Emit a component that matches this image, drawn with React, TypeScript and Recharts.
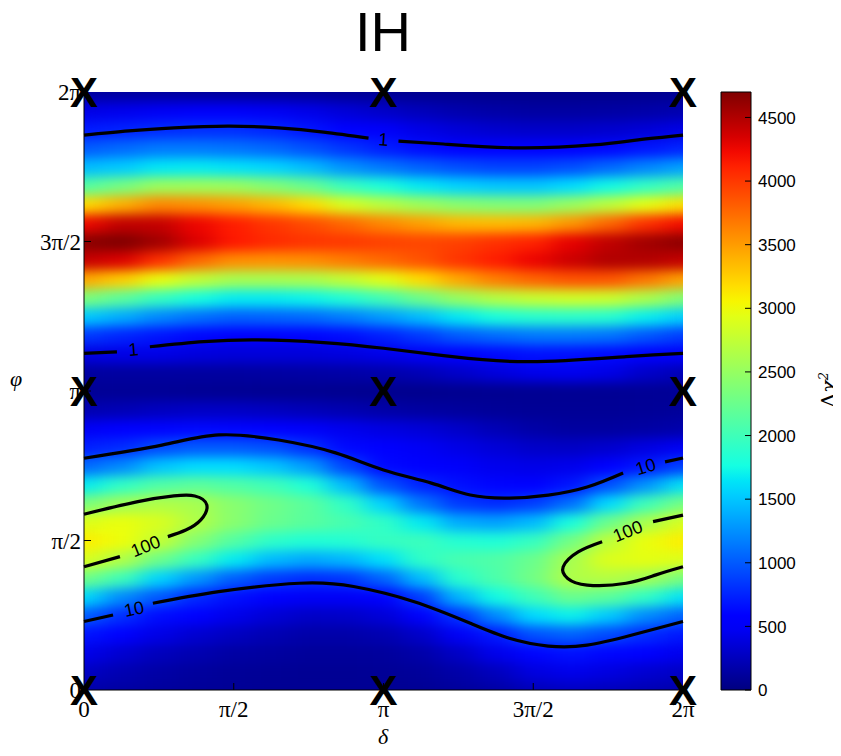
// IH: Δχ² map over (δ, φ) with contour lines and colour bar
import React from 'react';
import { ComposedChart, Scatter, Line, Bar, XAxis, YAxis } from 'recharts';

// δ and φ in units of π
const deltaCols = [0, 0.125, 0.25, 0.375, 0.5, 0.625, 0.75, 0.875, 1, 1.125, 1.25, 1.375, 1.5, 1.625, 1.75, 1.875, 2];
const phiRows = [
  0, 0.0625, 0.125, 0.1875, 0.25, 0.3125, 0.375, 0.4375, 0.5, 0.5625, 0.625, 0.6875, 0.75, 0.8125, 0.875, 0.9375,
  1, 1.0625, 1.125, 1.1875, 1.25, 1.3125, 1.375, 1.4375, 1.5, 1.5625, 1.625, 1.6875, 1.75, 1.8125, 1.875, 1.9375, 2,
];

// Δχ², one row per φ (bottom to top), one column per δ
const heatRows = [
  [170, 140, 120, 100, 90, 80, 80, 80, 80, 85, 110, 150, 220, 260, 240, 210, 170],
  [280, 210, 155, 125, 100, 90, 85, 85, 90, 110, 170, 255, 390, 440, 395, 335, 280],
  [445, 330, 250, 200, 150, 130, 110, 110, 120, 170, 285, 440, 600, 660, 610, 540, 445],
  [680, 540, 420, 330, 265, 210, 170, 170, 200, 300, 490, 700, 960, 1040, 930, 790, 680],
  [1030, 800, 640, 540, 435, 350, 290, 300, 360, 510, 820, 1215, 1590, 1700, 1520, 1230, 1030],
  [1620, 1230, 990, 770, 650, 540, 490, 490, 550, 860, 1420, 1750, 2000, 2250, 2160, 1920, 1620],
  [2300, 2000, 1570, 1290, 1020, 860, 790, 830, 1050, 1460, 1880, 2080, 2300, 2650, 2680, 2570, 2300],
  [2900, 2650, 2260, 1960, 1670, 1450, 1360, 1430, 1620, 1910, 2050, 2100, 2250, 2600, 2900, 2950, 2900],
  [3100, 3000, 2760, 2400, 2120, 1900, 1830, 1850, 1950, 1980, 1850, 1820, 1950, 2300, 2730, 2980, 3100],
  [2900, 2980, 2880, 2650, 2420, 2250, 2150, 2050, 1920, 1670, 1380, 1330, 1450, 1780, 2260, 2610, 2900],
  [2330, 2550, 2650, 2600, 2420, 2280, 2160, 1920, 1560, 1130, 850, 780, 870, 1100, 1600, 2000, 2330],
  [1660, 1920, 2100, 2170, 2100, 2000, 1820, 1450, 970, 750, 650, 600, 550, 680, 950, 1270, 1660],
  [1060, 1220, 1490, 1600, 1600, 1500, 1300, 900, 620, 560, 500, 450, 420, 440, 560, 700, 900],
  [720, 780, 930, 1000, 1000, 950, 800, 620, 520, 480, 420, 360, 300, 280, 320, 400, 480],
  [480, 540, 600, 620, 600, 560, 500, 450, 400, 360, 300, 220, 160, 130, 130, 150, 180],
  [200, 220, 260, 280, 280, 260, 230, 200, 160, 140, 120, 100, 90, 90, 90, 100, 110],
  [90, 90, 90, 85, 80, 75, 70, 65, 60, 60, 65, 70, 75, 80, 85, 90, 90],
  [130, 130, 130, 130, 130, 140, 150, 160, 180, 220, 300, 380, 440, 460, 420, 300, 220],
  [400, 420, 420, 385, 365, 365, 370, 390, 430, 490, 560, 620, 660, 650, 630, 560, 500],
  [860, 760, 680, 615, 580, 580, 600, 640, 730, 850, 1000, 1080, 1140, 1150, 1120, 990, 860],
  [1530, 1380, 1220, 1110, 1030, 1050, 1080, 1170, 1300, 1460, 1660, 1790, 1870, 1890, 1860, 1690, 1530],
  [2370, 2170, 1950, 1780, 1680, 1680, 1720, 1840, 2020, 2270, 2510, 2680, 2780, 2840, 2810, 2630, 2370],
  [3450, 3250, 2980, 2760, 2600, 2600, 2620, 2760, 2940, 3180, 3440, 3650, 3780, 3870, 3860, 3690, 3450],
  [4420, 4320, 4040, 3760, 3570, 3550, 3570, 3660, 3760, 3870, 4020, 4140, 4260, 4390, 4500, 4490, 4420],
  [4650, 4720, 4560, 4320, 4160, 4070, 4020, 4000, 3960, 3930, 3960, 4040, 4110, 4280, 4440, 4560, 4650],
  [4230, 4430, 4420, 4250, 4130, 4010, 3900, 3760, 3600, 3480, 3360, 3340, 3370, 3530, 3770, 4040, 4230],
  [3170, 3400, 3600, 3560, 3480, 3360, 3180, 2880, 2700, 2550, 2430, 2380, 2370, 2520, 2720, 2960, 3170],
  [2110, 2310, 2530, 2540, 2520, 2390, 2230, 1960, 1800, 1660, 1560, 1510, 1500, 1600, 1740, 1930, 2110],
  [1450, 1520, 1650, 1670, 1630, 1575, 1455, 1260, 1140, 1030, 945, 890, 890, 945, 1060, 1200, 1340],
  [1000, 1080, 1150, 1150, 1120, 1060, 960, 830, 720, 640, 580, 550, 540, 560, 610, 680, 760],
  [700, 740, 780, 800, 800, 760, 680, 580, 500, 420, 360, 320, 300, 300, 320, 360, 420],
  [420, 450, 480, 500, 500, 480, 430, 360, 300, 240, 190, 160, 140, 140, 150, 170, 200],
  [110, 110, 110, 105, 100, 95, 90, 80, 70, 60, 55, 50, 50, 50, 55, 60, 70],
];

const axisTicks = [0, 0.5, 1, 1.5, 2];
const axisTickLabels = ['0', 'π/2', 'π', '3π/2', '2π'];
const barTicks = [0, 500, 1000, 1500, 2000, 2500, 3000, 3500, 4000, 4500];
const BAR_MAX = 4700;

// best-fit points marked with X
const markerPoints = [
  [0, 0], [1, 0], [2, 0],
  [0, 1], [1, 1], [2, 1],
  [0, 2], [1, 2], [2, 2],
];

// contour lines [δ/π, φ/π], split where the inline labels sit
const contourUpper1a = [[0, 1.856], [0.15, 1.87], [0.3, 1.88], [0.48, 1.886], [0.65, 1.88], [0.8, 1.866], [0.95, 1.846]];
const contourUpper1b = [[1.05, 1.836], [1.2, 1.826], [1.45, 1.813], [1.7, 1.823], [1.85, 1.84], [2, 1.856]];
const contourLower1a = [[0, 1.126], [0.11, 1.131]];
const contourLower1b = [[0.22, 1.148], [0.4, 1.165], [0.58, 1.171], [0.8, 1.162], [1.0, 1.143], [1.23, 1.115], [1.49, 1.098], [1.81, 1.115], [2, 1.126]];
const contourUpper10a = [[0, 0.775], [0.26, 0.819], [0.45, 0.853], [0.65, 0.836], [0.84, 0.793], [1.0, 0.736], [1.16, 0.692], [1.29, 0.652], [1.42, 0.642], [1.55, 0.652], [1.68, 0.679], [1.8, 0.726]];
const contourUpper10b = [[1.94, 0.763], [2, 0.776]];
const contourLower10a = [[0, 0.229], [0.097, 0.251]];
const contourLower10b = [[0.23, 0.29], [0.45, 0.329], [0.72, 0.357], [0.9, 0.346], [1.1, 0.296], [1.29, 0.223], [1.42, 0.173], [1.55, 0.147], [1.68, 0.15], [1.83, 0.184], [2, 0.229]];
const contourLeft100a = [[0, 0.588], [0.18, 0.63], [0.3, 0.649], [0.37, 0.649], [0.41, 0.619], [0.39, 0.569], [0.34, 0.535], [0.28, 0.513]];
const contourLeft100b = [[0.12, 0.446], [0, 0.412]];
const contourRight100a = [[2, 0.585], [1.9, 0.563]];
const contourRight100b = [[1.73, 0.496], [1.65, 0.462], [1.6, 0.412], [1.615, 0.373], [1.68, 0.351], [1.81, 0.357], [1.91, 0.385], [2, 0.412]];

const contourLabels = [
  { x: 1.0, y: 1.842, text: '1', angle: 4 },
  { x: 0.165, y: 1.14, text: '1', angle: -5 },
  { x: 1.875, y: 0.748, text: '10', angle: -17 },
  { x: 0.167, y: 0.272, text: '10', angle: -12 },
  { x: 0.205, y: 0.482, text: '100', angle: -22 },
  { x: 1.815, y: 0.532, text: '100', angle: -22 },
];

const contourSegments = [
  contourUpper1a, contourUpper1b, contourLower1a, contourLower1b,
  contourUpper10a, contourUpper10b, contourLower10a, contourLower10b,
  contourLeft100a, contourLeft100b, contourRight100a, contourRight100b,
];

// ─── layout ───
const PLOT_W = 599;
const PLOT_H = 598;
const CELL_W = PLOT_W / (deltaCols.length - 1);
const CELL_H = PLOT_H / (phiRows.length - 1);
const SERIF = "'Liberation Serif', 'DejaVu Serif', serif";
const SANS = "'Liberation Sans', Arial, sans-serif";
const NARROW = "'Liberation Sans Narrow', 'Liberation Sans', Arial, sans-serif";

// matplotlib "jet"
const jetR = [[0, 0], [0.35, 0], [0.66, 1], [0.89, 1], [1, 0.5]];
const jetG = [[0, 0], [0.125, 0], [0.375, 1], [0.64, 1], [0.91, 0], [1, 0]];
const jetB = [[0, 0.5], [0.11, 1], [0.34, 1], [0.65, 0], [1, 0]];
const channel = (pts: number[][], t: number) => {
  for (let i = 1; i < pts.length; i++) {
    if (t <= pts[i][0]) {
      const [x0, y0] = pts[i - 1];
      const [x1, y1] = pts[i];
      return y0 + ((t - x0) / (x1 - x0)) * (y1 - y0);
    }
  }
  return pts[pts.length - 1][1];
};
const jet = (v: number) => {
  const t = Math.max(0, Math.min(1, v / BAR_MAX));
  const c = (p: number[][]) => Math.round(channel(p, t) * 255);
  return `rgb(${c(jetR)},${c(jetG)},${c(jetB)})`;
};

const heatData = heatRows.flatMap((row, r) => row.map((v, c) => ({ x: deltaCols[c], y: phiRows[r], v })));
const markerData = markerPoints.map(([x, y]) => ({ x, y }));
const toXY = (seg: number[][]) => seg.map(([x, y]) => ({ x, y }));
const barData = [{ name: 'Δχ²', v: BAR_MAX }];

const HeatCell = (p: any) => {
  const { cx, cy, payload } = p;
  const x0 = payload.x <= 0 ? cx : cx - CELL_W / 2;
  const x1 = payload.x >= 2 ? cx : cx + CELL_W / 2;
  const y0 = payload.y >= 2 ? cy : cy - CELL_H / 2;
  const y1 = payload.y <= 0 ? cy : cy + CELL_H / 2;
  return (
    <rect
      x={x0}
      y={y0}
      width={x1 - x0 + (payload.x < 2 ? 0.6 : 0)}
      height={y1 - y0 + (payload.y > 0 ? 0.6 : 0)}
      fill={jet(payload.v)}
    />
  );
};

const MarkerX = (p: any) => (
  <text x={p.cx} y={p.cy + 15} textAnchor="middle" fontSize={42} fontWeight="bold" fontFamily={NARROW} fill="#000">
    X
  </text>
);

const ContourLabel = (p: any) => (
  <text
    x={p.cx}
    y={p.cy}
    dy="0.36em"
    textAnchor="middle"
    fontSize={18}
    fontFamily={SANS}
    fill="#000"
    transform={`rotate(${p.payload.angle} ${p.cx} ${p.cy})`}
  >
    {p.payload.text}
  </text>
);

const piLabel = (v: number) => axisTickLabels[axisTicks.indexOf(v)] ?? '';
const inner = (v: number) => v > 0 && v < 2;

const BottomTick = ({ x, y, payload }: any) => (
  <g>
    {inner(payload.value) && <line x1={x} x2={x} y1={y} y2={y - 7} stroke="#000" />}
    <text x={x} y={y + 27} textAnchor="middle" fontSize={23} fontFamily={SERIF} fill="#000">
      {piLabel(payload.value)}
    </text>
  </g>
);
const LeftTick = ({ x, y, payload }: any) => (
  <g>
    {inner(payload.value) && <line x1={x} x2={x + 7} y1={y} y2={y} stroke="#000" />}
    <text x={x - 3} y={y} dy="0.35em" textAnchor="end" fontSize={23} fontFamily={SERIF} fill="#000">
      {piLabel(payload.value)}
    </text>
  </g>
);
const TopTick = ({ x, y, payload }: any) =>
  inner(payload.value) ? <line x1={x} x2={x} y1={y} y2={y + 7} stroke="#000" /> : <g />;
const RightTick = ({ x, y, payload }: any) =>
  inner(payload.value) ? <line x1={x} x2={x - 7} y1={y} y2={y} stroke="#000" /> : <g />;
const BarTick = ({ x, y, payload }: any) => (
  <g>
    <line x1={x - 6} x2={x} y1={y} y2={y} stroke="#000" />
    <text x={x + 7} y={y} dy="0.36em" fontSize={17} fontFamily={SANS} fill="#000">
      {payload.value}
    </text>
  </g>
);

const gradStops = Array.from({ length: 41 }, (_, i) => i / 40);

export default function App() {
  return (
    <div style={{ position: 'relative', width: 841, height: 756, margin: -8, background: '#fff', overflow: 'hidden' }}>
      <style>{`.heat-layer { filter: url(#heatBlur); }`}</style>
      <svg width={0} height={0} style={{ position: 'absolute' }}>
        <defs>
          <filter id="heatBlur" x="0" y="0" width="1" height="1" colorInterpolationFilters="sRGB">
            <feGaussianBlur stdDeviation="12 6" edgeMode="duplicate" />
            <feComponentTransfer>
              <feFuncA type="table" tableValues="1 1" />
            </feComponentTransfer>
          </filter>
          <linearGradient id="jetGrad" x1="0" y1="1" x2="0" y2="0">
            {gradStops.map((t) => (
              <stop key={t} offset={t} stopColor={jet(t * BAR_MAX)} />
            ))}
          </linearGradient>
        </defs>
      </svg>

      <ComposedChart
        width={841}
        height={756}
        margin={{ top: 92, right: 158, bottom: 26, left: 24 }}
        style={{ position: 'absolute', left: 0, top: 0 }}
      >
        <XAxis
          xAxisId={0}
          dataKey="x"
          type="number"
          domain={[0, 2]}
          ticks={axisTicks}
          height={40}
          tick={<BottomTick />}
          tickSize={0}
          tickMargin={0}
          axisLine={{ stroke: '#000' }}
          interval={0}
        />
        <XAxis
          xAxisId="top"
          orientation="top"
          type="number"
          domain={[0, 2]}
          ticks={axisTicks}
          height={0}
          tick={<TopTick />}
          tickSize={0}
          tickMargin={0}
          axisLine={{ stroke: '#000' }}
          interval={0}
        />
        <YAxis
          yAxisId={0}
          dataKey="y"
          type="number"
          domain={[0, 2]}
          ticks={axisTicks}
          width={60}
          tick={<LeftTick />}
          tickSize={0}
          tickMargin={0}
          axisLine={{ stroke: '#000' }}
          interval={0}
        />
        <YAxis
          yAxisId="right"
          orientation="right"
          type="number"
          domain={[0, 2]}
          ticks={axisTicks}
          width={0}
          tick={<RightTick />}
          tickSize={0}
          tickMargin={0}
          axisLine={{ stroke: '#000' }}
          interval={0}
        />
        <Scatter
          name="heat"
          data={heatData}
          className="heat-layer"
          shape={<HeatCell />}
          isAnimationActive={false}
          zIndex={-50}
        />
        {contourSegments.map((seg, i) => (
          <Line
            key={`c${i}`}
            data={toXY(seg)}
            dataKey="y"
            type="natural"
            stroke="#000"
            strokeWidth={3.2}
            dot={false}
            activeDot={false}
            isAnimationActive={false}
            zIndex={400}
          />
        ))}
        <Scatter name="labels" data={contourLabels} shape={<ContourLabel />} isAnimationActive={false} zIndex={700} />
        <Scatter name="minima" data={markerData} shape={<MarkerX />} isAnimationActive={false} zIndex={800} />
      </ComposedChart>

      <ComposedChart
        width={841}
        height={756}
        data={barData}
        margin={{ top: 92, right: 10, bottom: 66, left: 721 }}
        barCategoryGap={0}
        style={{ position: 'absolute', left: 0, top: 0 }}
      >
        <XAxis dataKey="name" hide />
        <YAxis
          orientation="right"
          type="number"
          domain={[0, BAR_MAX]}
          ticks={barTicks}
          width={80}
          tick={<BarTick />}
          tickSize={0}
          tickMargin={0}
          axisLine={false}
          interval={0}
        />
        <Bar dataKey="v" fill="url(#jetGrad)" stroke="#000" strokeWidth={1} isAnimationActive={false} />
      </ComposedChart>

      <div
        style={{
          position: 'absolute', left: 0, width: 766, top: 2, textAlign: 'center',
          fontFamily: NARROW, fontSize: 56, lineHeight: '60px', color: '#000',
        }}
      >
        IH
      </div>
      <div
        style={{
          position: 'absolute', left: 373, top: 724, width: 20, textAlign: 'center',
          fontFamily: SERIF, fontStyle: 'italic', fontSize: 22, color: '#000',
        }}
      >
        δ
      </div>
      <div
        style={{
          position: 'absolute', left: 10, top: 366, fontFamily: SERIF, fontStyle: 'italic', fontSize: 22, color: '#000',
        }}
      >
        φ
      </div>
      <div
        style={{
          position: 'absolute', left: 826, top: 390, transform: 'translate(-50%, -50%) rotate(-90deg)',
          fontFamily: "'DejaVu Serif', serif", fontSize: 21, color: '#000', whiteSpace: 'nowrap', lineHeight: '24px',
        }}
      >
        Δ<span style={{ fontStyle: 'italic' }}>χ</span>
        <sup style={{ fontSize: 13, fontStyle: 'italic' }}>2</sup>
      </div>
    </div>
  );
}
